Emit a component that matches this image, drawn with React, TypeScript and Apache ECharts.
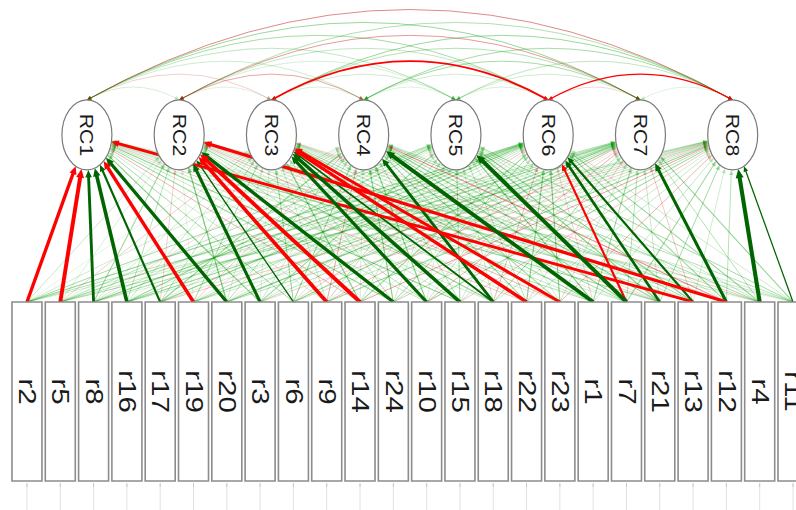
import React, { useEffect, useRef } from 'react';
import * as echarts from 'echarts';

// ---------- data ----------
const manifestNames = ['r2', 'r5', 'r8', 'r16', 'r17', 'r19', 'r20', 'r3', 'r6', 'r9', 'r14', 'r24',
  'r10', 'r15', 'r18', 'r22', 'r23', 'r1', 'r7', 'r21', 'r13', 'r12', 'r4', 'r11'];
const latentNames = ['RC1', 'RC2', 'RC3', 'RC4', 'RC5', 'RC6', 'RC7', 'RC8'];

// loadings of each manifest (in manifestNames order) on each rotated component
const rc1Loadings = [-0.62, -0.70, 0.55, 0.65, 0.45, -0.63, 0.62, 0.25, 0.18, 0.10, -0.15, 0.20,
  0.12, 0.22, 0.10, -0.12, 0.08, 0.15, 0.10, 0.20, -0.55, 0.12, 0.10, 0.08];
const rc2Loadings = [0.12, 0.08, 0.20, 0.15, -0.10, 0.05, 0.28, 0.58, 0.33, -0.66, -0.68, 0.62,
  0.15, 0.10, 0.22, 0.10, -0.15, 0.12, 0.08, -0.12, 0.15, -0.60, 0.15, 0.12];
const rc3Loadings = [0.05, -0.10, 0.10, 0.12, 0.15, 0.18, 0.10, 0.08, 0.20, 0.12, 0.25, 0.15,
  0.60, 0.65, 0.40, -0.62, -0.58, 0.20, 0.18, 0.10, 0.12, 0.15, -0.12, 0.10];
const rc4Loadings = [0.10, 0.06, -0.08, 0.05, 0.22, -0.12, 0.15, 0.12, 0.20, -0.18, 0.10, 0.25,
  0.25, 0.15, 0.55, 0.20, 0.20, 0.68, 0.22, 0.22, 0.18, -0.22, 0.18, 0.15];
const rc5Loadings = [0.18, 0.15, 0.12, 0.20, 0.10, 0.08, -0.05, 0.20, 0.10, 0.15, 0.12, 0.10,
  0.08, 0.20, 0.12, 0.15, 0.10, 0.25, 0.70, 0.25, 0.22, 0.10, 0.12, 0.18];
const rc6Loadings = [0.22, 0.20, 0.25, 0.18, 0.24, 0.15, 0.12, 0.10, -0.12, 0.08, 0.20, 0.18,
  0.12, 0.10, -0.15, 0.25, 0.25, -0.10, -0.45, 0.52, 0.45, 0.20, 0.20, 0.10];
const rc7Loadings = [0.15, 0.12, 0.18, 0.22, 0.10, 0.20, 0.25, 0.15, 0.22, -0.15, 0.05, -0.10,
  -0.15, 0.12, 0.18, -0.10, 0.12, 0.20, 0.15, 0.12, -0.12, 0.58, 0.15, 0.22];
const rc8Loadings = [0.10, 0.18, 0.08, 0.12, -0.12, 0.10, 0.15, -0.10, 0.12, 0.20, -0.18, 0.15,
  0.20, -0.12, 0.10, 0.12, -0.15, 0.12, 0.20, 0.18, 0.10, 0.15, 0.72, 0.32];
const loadingColumns = [rc1Loadings, rc2Loadings, rc3Loadings, rc4Loadings,
  rc5Loadings, rc6Loadings, rc7Loadings, rc8Loadings];

// correlations between components: [from, to, r]
const corrFrom = [0, 0, 0, 0, 0, 0, 0, 1, 1, 1, 1, 1, 1, 2, 2, 2, 2, 2, 3, 3, 3, 3, 4, 4, 4, 5, 5, 6];
const corrTo = [1, 2, 3, 4, 5, 6, 7, 2, 3, 4, 5, 6, 7, 3, 4, 5, 6, 7, 4, 5, 6, 7, 5, 6, 7, 6, 7, 7];
const corrValues = [0.10, -0.12, 0.12, 0.15, 0.20, 0.22, -0.25, 0.08, -0.20, 0.10, 0.15, -0.22, 0.18,
  0.10, 0.12, -0.45, 0.18, 0.22, 0.08, 0.12, 0.20, 0.20, 0.10, 0.12, 0.15, -0.10, -0.32, 0.08];

// ---------- layout ----------
const MANIFEST_LEVEL = 0;
const LATENT_LEVEL = 1;
const LAT_START = 1.8;
const LAT_STEP = 2.77;
const latentX = (k: number) => LAT_START + k * LAT_STEP;
const BOX_W = 30;
const BOX_H = 179;
const RX = 25;
const RY = 35;
const CUT = 0.3;
const MAXV = 0.75;
const FONT = 'Liberation Sans, Arial, Helvetica, sans-serif';

function edgeStyle(v: number) {
  const a = Math.abs(v);
  const pos = v > 0;
  if (a >= CUT) {
    return { stroke: pos ? '#006400' : '#FF0000', lineWidth: 1.1 + ((a - CUT) / (MAXV - CUT)) * 3.2, opacity: 1 };
  }
  const f = a / CUT;
  return { stroke: pos ? '#009900' : '#BF0000', lineWidth: 0.5 + 0.8 * f, opacity: 0.1 + 0.45 * f };
}

function arrowHead(tip: number[], ux: number, uy: number, len: number, half: number, color: string, opacity: number) {
  const bx = tip[0] - ux * len;
  const by = tip[1] - uy * len;
  return {
    type: 'polygon',
    shape: { points: [[tip[0], tip[1]], [bx - uy * half, by + ux * half], [bx + uy * half, by - ux * half]] },
    style: { fill: color, opacity },
  };
}

const loadingData: number[][] = [];
loadingColumns.forEach((col, k) => col.forEach((v, m) => loadingData.push([m, k, v])));
loadingData.sort((a, b) => Math.abs(a[2]) - Math.abs(b[2]));

const corrData = corrValues.map((r, i) => [corrFrom[i], corrTo[i], r]);
corrData.sort((a, b) => Math.abs(a[2]) - Math.abs(b[2]));

const option: any = {
  animation: false,
  backgroundColor: '#ffffff',
  grid: { left: 0, right: 0, top: 0, bottom: 0 },
  xAxis: { type: 'value', min: -0.81, max: 23.09, show: false },
  yAxis: { type: 'value', min: -0.462, max: 1.526, show: false },
  series: [
    {
      type: 'custom',
      name: 'loadings',
      z: 1,
      data: loadingData,
      renderItem: (params: any, api: any) => {
        const m = api.value(0);
        const k = api.value(1);
        const v = api.value(2);
        const p = api.coord([m, MANIFEST_LEVEL]);
        const P = [p[0], p[1] - BOX_H / 2];
        const C = api.coord([latentX(k), LATENT_LEVEL]);
        const dx = P[0] - C[0];
        const dy = P[1] - C[1];
        const t = 1 / Math.sqrt((dx / RX) ** 2 + (dy / RY) ** 2);
        const B = [C[0] + dx * t, C[1] + dy * t];
        const L = Math.hypot(B[0] - P[0], B[1] - P[1]);
        const ux = (B[0] - P[0]) / L;
        const uy = (B[1] - P[1]) / L;
        const st = edgeStyle(v);
        const alen = 4 + st.lineWidth * 1.2;
        return {
          type: 'group',
          children: [
            {
              type: 'line',
              shape: { x1: P[0], y1: P[1], x2: B[0] - ux * alen * 0.7, y2: B[1] - uy * alen * 0.7 },
              style: { stroke: st.stroke, lineWidth: st.lineWidth, opacity: st.opacity },
            },
            arrowHead(B, ux, uy, alen, 1.6 + st.lineWidth * 0.6, st.stroke, st.opacity),
          ],
        };
      },
    },
    {
      type: 'custom',
      name: 'correlations',
      z: 1,
      data: corrData,
      renderItem: (params: any, api: any) => {
        const a = api.value(0);
        const b = api.value(1);
        const r = api.value(2);
        const A = api.coord([latentX(a), LATENT_LEVEL]);
        const Bp = api.coord([latentX(b), LATENT_LEVEL]);
        const y0 = A[1] - RY;
        const d = Bp[0] - A[0];
        const cx = (A[0] + Bp[0]) / 2;
        const cy = y0 - 0.28 * d;
        const st = edgeStyle(r);
        const lw = Math.max(0.6, st.lineWidth * 0.85);
        const mk = (tx: number) => {
          const vx = tx - cx;
          const vy = y0 - cy;
          const l = Math.hypot(vx, vy);
          return arrowHead([tx, y0], vx / l, vy / l, 4.5, 2, st.stroke, st.opacity);
        };
        return {
          type: 'group',
          children: [
            {
              type: 'bezierCurve',
              shape: { x1: A[0], y1: y0, x2: Bp[0], y2: y0, cpx1: cx, cpy1: cy },
              style: { stroke: st.stroke, lineWidth: lw, opacity: st.opacity, fill: 'none' },
            },
            mk(A[0]),
            mk(Bp[0]),
          ],
        };
      },
    },
    {
      type: 'custom',
      name: 'manifest',
      z: 3,
      data: manifestNames.map((_, i) => [i, MANIFEST_LEVEL]),
      renderItem: (params: any, api: any) => {
        const c = api.coord([api.value(0), api.value(1)]);
        const bottom = c[1] + BOX_H / 2;
        return {
          type: 'group',
          children: [
            { type: 'line', shape: { x1: c[0], y1: bottom + 3, x2: c[0], y2: bottom + 40 }, style: { stroke: '#e2e2e2', lineWidth: 1 } },
            { type: 'line', shape: { x1: c[0], y1: bottom + 2, x2: c[0], y2: bottom + 6 }, style: { stroke: '#c8c8c8', lineWidth: 1 } },
            {
              type: 'rect',
              shape: { x: c[0] - BOX_W / 2, y: c[1] - BOX_H / 2, width: BOX_W, height: BOX_H },
              style: { fill: '#ffffff', stroke: '#8c8c8c', lineWidth: 1.6 },
            },
            {
              type: 'text',
              x: c[0],
              y: c[1],
              rotation: -Math.PI / 2,
              scaleX: 1.28,
              style: {
                text: manifestNames[params.dataIndex],
                fontSize: 23,
                fontFamily: FONT,
                fill: '#1a1a1a',
                align: 'center',
                verticalAlign: 'middle',
              },
            },
          ],
        };
      },
    },
    {
      type: 'custom',
      name: 'latent',
      z: 3,
      data: latentNames.map((_, k) => [latentX(k), LATENT_LEVEL]),
      renderItem: (params: any, api: any) => {
        const c = api.coord([api.value(0), api.value(1)]);
        return {
          type: 'group',
          children: [
            {
              type: 'ellipse',
              shape: { cx: c[0], cy: c[1], rx: RX, ry: RY },
              style: { fill: '#ffffff', stroke: '#7a7a7a', lineWidth: 1.2 },
            },
            {
              type: 'text',
              x: c[0],
              y: c[1],
              rotation: -Math.PI / 2,
              scaleX: 1.12,
              style: {
                text: latentNames[params.dataIndex],
                fontSize: 19,
                fontFamily: FONT,
                fill: '#1a1a1a',
                align: 'center',
                verticalAlign: 'middle',
              },
            },
          ],
        };
      },
    },
  ],
};

export default function App() {
  const ref = useRef<HTMLDivElement>(null);
  useEffect(() => {
    if (!ref.current) return;
    const chart = echarts.init(ref.current, null, { renderer: 'svg' });
    chart.setOption(option);
    return () => chart.dispose();
  }, []);
  return (
    <div
      ref={ref}
      style={{ position: 'fixed', left: 0, top: 0, width: 796, height: 510, background: '#ffffff' }}
    />
  );
}
